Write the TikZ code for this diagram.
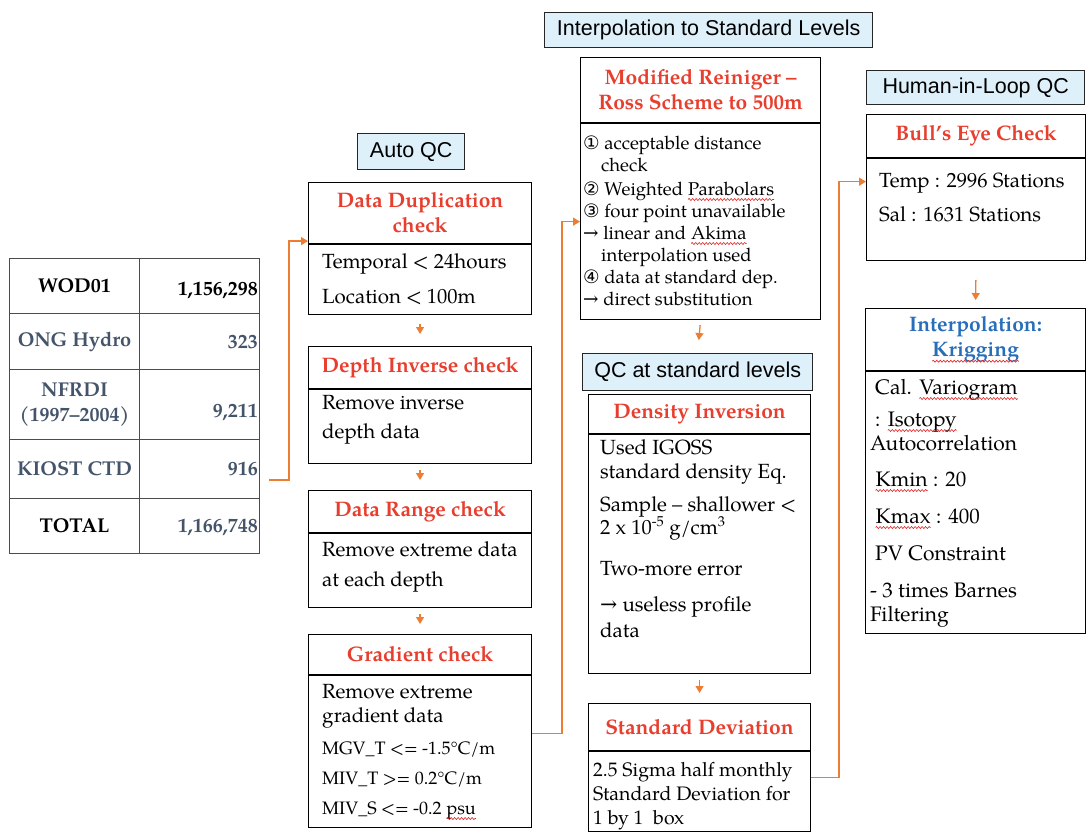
\documentclass[tikz,border=0pt]{standalone}
\usepackage{fontspec}
\setmainfont{TeX Gyre Pagella}
\newfontfamily\labf{Liberation Sans}
\newfontfamily\symf{DejaVu Sans}
\newfontfamily\arrf{DejaVu Serif}
\usetikzlibrary{arrows.meta,calc,decorations.pathmorphing}
\definecolor{orng}{RGB}{237,125,49}
\definecolor{hred}{RGB}{232,62,46}
\definecolor{hblue}{RGB}{40,110,185}
\definecolor{slate}{RGB}{68,84,106}
\definecolor{lblue}{RGB}{222,240,250}
\definecolor{squig}{RGB}{225,30,30}
\newcommand\rwave[1]{\tikz[baseline=(w.base),x=1pt,y=1pt]{%
  \node[anchor=base,inner sep=0pt,outer sep=0pt,minimum size=0pt] (w) at (0,0) {#1};%
  \draw[squig,line width=0.6pt,decorate,decoration={snake,amplitude=1pt,segment length=3.5pt}]
    ([yshift=-4.5pt]w.base west) -- ([yshift=-4.5pt]w.base east);}}
\newcommand\arr{{\arrf →}}
\newcommand\cnum[1]{{\symf #1}}
\begin{document}
\begin{tikzpicture}[x=1pt,y=-1pt,
  box/.style={draw=black, line width=1.1pt, rectangle, inner sep=0pt, anchor=north west},
  lbl/.style={draw=black!85, line width=1.4pt, fill=lblue, inner sep=0pt, anchor=north west,
    font=\labf\fontsize{21.5}{25}\selectfont},
  hd/.style={font=\bfseries\fontsize{21}{25}\selectfont, text=hred, align=center},
  bt/.style={anchor=base west, inner sep=0pt, font=\fontsize{20.5}{24}\selectfont},
  bts/.style={anchor=base west, inner sep=0pt, font=\fontsize{18.5}{22}\selectfont},
  btm/.style={anchor=base west, inner sep=0pt, font=\fontsize{18}{22}\selectfont},
  tcell/.style={draw=black!70, line width=1pt, rectangle, inner sep=0pt, anchor=north west,
    font=\bfseries\fontsize{20}{25}\selectfont, align=center},
  tnum/.style={anchor=base east, inner sep=0pt, font=\bfseries\fontsize{20}{25}\selectfont},
  conn/.style={draw=orng, line width=1.3pt, -{Triangle[width=8pt,length=7pt]}}
]
\useasboundingbox (0,0) rectangle (1086,831);
\fill[white] (0,0) rectangle (1086,831);

% ---------- table ----------
\node[tcell, minimum width=130pt, minimum height=55pt] (ta1) at (9,258) {WOD01};
\node[tcell, minimum width=120pt, minimum height=55pt] (tb1) at (139,258) {};
\node[tcell, minimum width=130pt, minimum height=56pt, text=slate] (ta2) at (9,313) {ONG Hydro};
\node[tcell, minimum width=120pt, minimum height=56pt] (tb2) at (139,313) {};
\node[tcell, minimum width=130pt, minimum height=70pt, text=slate] (ta3) at (9,369) {NFRDI\\(1997–2004)};
\node[tcell, minimum width=120pt, minimum height=70pt] (tb3) at (139,369) {};
\node[tcell, minimum width=130pt, minimum height=59pt, text=slate] (ta4) at (9,439) {KIOST CTD};
\node[tcell, minimum width=120pt, minimum height=59pt] (tb4) at (139,439) {};
\node[tcell, minimum width=130pt, minimum height=55pt] (ta5) at (9,498) {TOTAL};
\node[tcell, minimum width=120pt, minimum height=55pt] (tb5) at (139,498) {};
\node[tnum] (n1) at (258,295) {1,156,298};
\node[tnum, text=slate] (n2) at (258,348) {323};
\node[tnum, text=slate] (n3) at (258,417) {9,211};
\node[tnum, text=slate] (n4) at (258,475) {916};
\node[tnum, text=slate] (n5) at (258,532) {1,166,748};
\coordinate (tabout) at (269,480);

% ---------- labels ----------
\node[lbl, minimum width=107pt, minimum height=36pt] (autoqc) at (357,133) {Auto QC};
\node[lbl, minimum width=328pt, minimum height=35pt] (interp) at (544,12) {Interpolation to Standard Levels};
\node[lbl, minimum width=230pt, minimum height=37pt] (qcstd) at (582,353) {QC at standard levels};
\node[lbl, minimum width=218pt, minimum height=34pt] (hil) at (866,70) {Human-in-Loop QC};

% ---------- Auto QC column ----------
\node[box, hd, minimum width=223pt, minimum height=61pt] (ddh) at (308,182) {Data Duplication\\check};
\node[box, minimum width=223pt, minimum height=70pt] (ddb) at (ddh.south west) {};
\node[bt] (dd1) at (322,268) {Temporal < 24hours};
\node[bt] (dd2) at (322,303) {Location < 100m};

\node[box, hd, minimum width=223pt, minimum height=42pt] (dih) at (308,346) {Depth Inverse check};
\node[box, minimum width=223pt, minimum height=74pt] (dib) at (dih.south west) {};
\node[bt] (di1) at (322,409) {Remove inverse};
\node[bt] (di2) at (322,438) {depth data};

\node[box, hd, minimum width=223pt, minimum height=42pt] (drh) at (308,490) {Data Range check};
\node[box, minimum width=223pt, minimum height=74pt] (drb) at (drh.south west) {};
\node[bt] (dr1) at (322,556) {Remove extreme data};
\node[bt] (dr2) at (322,586) {at each depth};

\node[box, hd, minimum width=223pt, minimum height=40pt] (grh) at (308,634) {Gradient check};
\node[box, minimum width=223pt, minimum height=152pt] (grb) at (grh.south west) {};
\node[bt] (gr1) at (322,698) {Remove extreme};
\node[bt] (gr2) at (322,722) {gradient data};
\node[btm] (gr3) at (322,754) {MGV\_T <= -1.5°C/m};
\node[btm] (gr4) at (322,784) {MIV\_T >= 0.2°C/m};
\node[btm] (gr5) at (322,814) {MIV\_S <= -0.2 \rwave{psu}};

% ---------- Interpolation column ----------
\node[box, hd, minimum width=240pt, minimum height=65pt] (mrh) at (580,57) {Modified Reiniger –\\Ross Scheme to 500m};
\node[box, minimum width=240pt, minimum height=196pt] (mrb) at (mrh.south west) {};
\node[bts] (m1) at (583,149) {\cnum{①} acceptable distance};
\node[bts] (m2) at (601,171) {check};
\node[bts] (m3) at (583,195) {\cnum{②} Weighted \rwave{Parabolars}};
\node[bts] (m4) at (583,217) {\cnum{③} four point unavailable};
\node[bts] (m5) at (583,239) {\arr\ linear and \rwave{Akima}};
\node[bts] (m6) at (601,261) {interpolation used};
\node[bts] (m7) at (583,283) {\cnum{④} data at standard dep.};
\node[bts] (m8) at (583,305) {\arr\ direct substitution};

\node[box, hd, minimum width=222pt, minimum height=39pt] (dnh) at (588,394) {Density Inversion};
\node[box, minimum width=222pt, minimum height=239pt] (dnb) at (dnh.south west) {};
\node[bt] (dn1) at (600,454) {Used IGOSS};
\node[bt] (dn2) at (600,478) {standard density Eq.};
\node[bt] (dn3) at (600,511) {Sample – shallower <};
\node[bt] (dn4) at (600,534) {2 x 10\textsuperscript{-5} g/cm\textsuperscript{3}};
\node[bt] (dn5) at (600,575) {Two-more error};
\node[bt] (dn6) at (600,611) {\arr\ useless profile};
\node[bt] (dn7) at (600,637) {data};

\node[box, hd, minimum width=222pt, minimum height=47pt] (sdh) at (588,703) {Standard Deviation};
\node[box, minimum width=222pt, minimum height=80pt] (sdb) at (sdh.south west) {};
\node[bt, font=\fontsize{19.5}{24}\selectfont] (sd1) at (593,776) {2.5 Sigma half monthly};
\node[bt, font=\fontsize{19.5}{24}\selectfont] (sd2) at (593,800) {Standard Deviation for};
\node[bt, font=\fontsize{19.5}{24}\selectfont] (sd3) at (593,824) {1 by 1~~box};

% ---------- Human-in-loop column ----------
\node[box, hd, minimum width=219pt, minimum height=43pt] (beh) at (866,114) {Bull’s Eye Check};
\node[box, minimum width=219pt, minimum height=102pt] (beb) at (beh.south west) {};
\node[bt] (be1) at (879,187) {Temp : 2996 Stations};
\node[bt] (be2) at (879,221) {Sal : 1631 Stations};

\node[box, hd, text=hblue, minimum width=220pt, minimum height=62pt] (krh) at (865,308) {Interpolation:\\\rwave{Krigging}};
\node[box, minimum width=220pt, minimum height=262pt] (krb) at (krh.south west) {};
\node[bt, font=\fontsize{21}{25}\selectfont] (kr1) at (875,394) {Cal. \rwave{Variogram}};
\node[bt, font=\fontsize{21}{25}\selectfont] (kr2) at (875,426) {: \rwave{Isotopy}};
\node[bt, font=\fontsize{21}{25}\selectfont] (kr3) at (870,450) {Autocorrelation};
\node[bt, font=\fontsize{21}{25}\selectfont] (kr4) at (875,486) {\rwave{Kmin} : 20};
\node[bt, font=\fontsize{21}{25}\selectfont] (kr5) at (875,523) {\rwave{Kmax} : 400};
\node[bt, font=\fontsize{21}{25}\selectfont] (kr6) at (875,560) {PV Constraint};
\node[bt, font=\fontsize{21}{25}\selectfont] (kr7) at (870,597) {- 3 times Barnes};
\node[bt, font=\fontsize{21}{25}\selectfont] (kr8) at (870,621) {Filtering};

% ---------- connectors ----------
\draw[conn] (tabout) -- ++(20,0) |- ($(ddh.south west)+(0,-3)$);
\draw[conn, shorten <=9pt, shorten >=12pt] (ddb.south) -- (dih.north);
\draw[conn, shorten <=6pt, shorten >=10pt] (dib.south) -- (drh.north);
\draw[conn, shorten <=6pt, shorten >=10pt] (drb.south) -- (grh.north);
\draw[conn] ($(grb.east)+(0,-18)$) -- ++(30,0) |- (mrb.west);
\draw[conn, shorten <=5pt, shorten >=13pt] (mrb.south) -- (qcstd.north);
\draw[conn, shorten <=6pt, shorten >=10pt] (dnb.south) -- (sdh.north);
\draw[conn] ($(sdb.east)+(0,-14)$) -- ++(28,0) |- ($(beb.west)+(0,-28)$);
\draw[conn, shorten <=19pt, shorten >=8pt] (beb.south) -- (krh.north);
\end{tikzpicture}
\end{document}
